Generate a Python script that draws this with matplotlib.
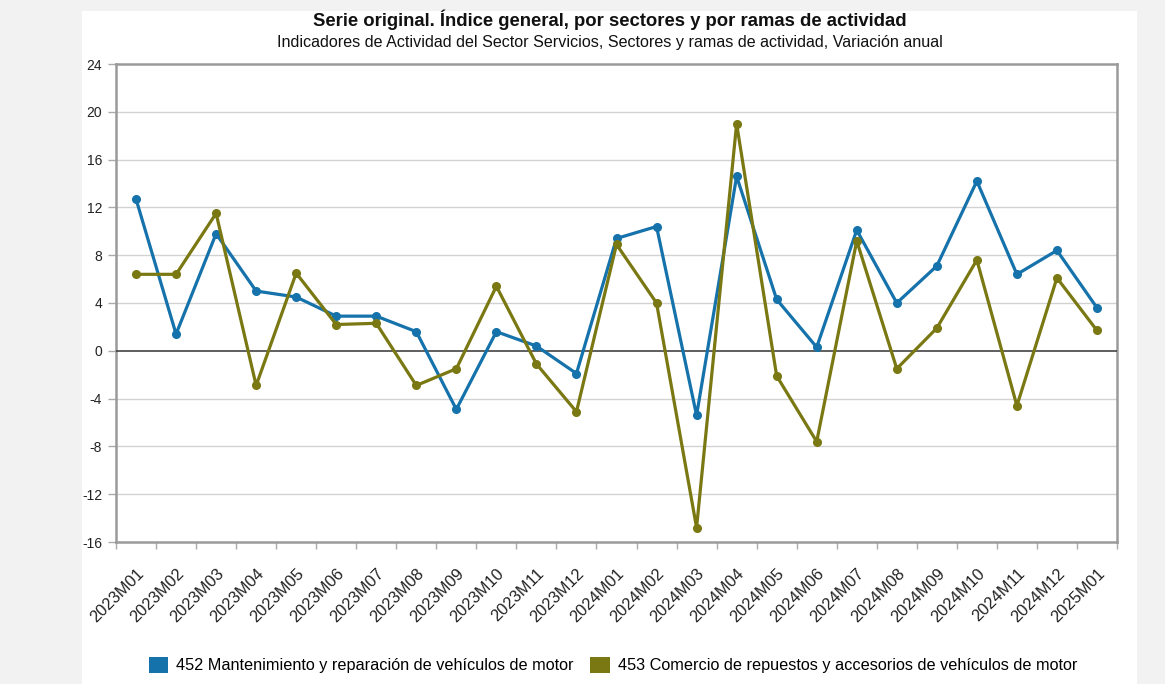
import matplotlib
matplotlib.use("Agg")
import matplotlib.pyplot as plt
from matplotlib.patches import Rectangle, Patch

plt.rcParams['font.family'] = ['Liberation Sans', 'DejaVu Sans']

categories = ["2023M01", "2023M02", "2023M03", "2023M04", "2023M05", "2023M06",
              "2023M07", "2023M08", "2023M09", "2023M10", "2023M11", "2023M12",
              "2024M01", "2024M02", "2024M03", "2024M04", "2024M05", "2024M06",
              "2024M07", "2024M08", "2024M09", "2024M10", "2024M11", "2024M12",
              "2025M01"]

serie_452 = [12.7, 1.4, 9.8, 5.0, 4.5, 2.9, 2.9, 1.6, -4.9, 1.6, 0.4, -1.9,
             9.4, 10.4, -5.4, 14.6, 4.3, 0.3, 10.1, 4.0, 7.1, 14.2, 6.4, 8.4, 3.6]
serie_453 = [6.4, 6.4, 11.5, -2.9, 6.5, 2.2, 2.3, -2.9, -1.5, 5.4, -1.1, -5.1,
             8.9, 4.0, -14.8, 19.0, -2.1, -7.6, 9.2, -1.5, 1.9, 7.6, -4.6, 6.1, 1.7]

name_452 = "452 Mantenimiento y reparación de vehículos de motor"
name_453 = "453 Comercio de repuestos y accesorios de vehículos de motor"
title = "Serie original. Índice general, por sectores y por ramas de actividad"
subtitle = "Indicadores de Actividad del Sector Servicios, Sectores y ramas de actividad, Variación anual"
yticks = [-16, -12, -8, -4, 0, 4, 8, 12, 16, 20, 24]

color_452 = "#1572ab"
color_453 = "#7a7812"

W, H = 1165, 684
fig = plt.figure(figsize=(W / 100, H / 100), dpi=100)
fig.patch.set_facecolor("#f2f2f2")
fig.patches.append(Rectangle((82 / W, 0), (1137 - 82) / W, (H - 11) / H,
                             transform=fig.transFigure, facecolor="white",
                             edgecolor="none", zorder=-10))

left, right, top, bottom = 116, 1117, 64, 542
ax = fig.add_axes([left / W, 1 - bottom / H, (right - left) / W, (bottom - top) / H])
ax.set_zorder(5)
ax.set_facecolor("white")

x = list(range(len(categories)))
ax.plot(x, serie_452, color=color_452, lw=2.3, marker="o", markersize=5.5, zorder=4)
ax.plot(x, serie_453, color=color_453, lw=2.3, marker="o", markersize=5.5, zorder=4)

ax.set_xlim(-0.5, len(categories) - 0.5)
ax.set_ylim(-16, 24)
ax.set_yticks(yticks)
ax.set_yticklabels([str(v) for v in yticks], fontsize=10, color="#222222")
for v in yticks:
    if v == 0:
        ax.axhline(v, color="#333333", lw=1.1, zorder=3)
    elif v not in (-16, 24):
        ax.axhline(v, color="#d2d2d2", lw=1.0, zorder=1)

ax.set_xticks([i - 0.5 for i in range(len(categories) + 1)], minor=False)
ax.set_xticklabels([""] * (len(categories) + 1))
ax.set_xticks(x, minor=True)
ax.set_xticklabels(categories, minor=True, rotation=45, ha="right", va="top",
                   rotation_mode="anchor", fontsize=11.8, color="#222222")
ax.tick_params(axis="x", which="minor", length=0, pad=17)
ax.tick_params(axis="x", which="major", length=5, color="#aaaaaa", width=1)
ax.tick_params(axis="y", length=6, color="#aaaaaa", width=1, pad=4)

for s in ax.spines.values():
    s.set_color("#9a9a9a")
    s.set_linewidth(1.8)

fig.text(609.5 / W, 1 - 20 / H, title, ha="center", va="center",
         fontsize=13.3, fontweight="bold", color="#111111")
fig.text(609.5 / W, 1 - 42 / H, subtitle, ha="center", va="center",
         fontsize=11.6, color="#111111")

handles = [Patch(facecolor=color_452, edgecolor="none"),
           Patch(facecolor=color_453, edgecolor="none")]
fig.legend(handles, [name_452, name_453], loc="center", ncol=2,
           bbox_to_anchor=(613 / W, 1 - 665 / H), frameon=False,
           fontsize=11.7, handlelength=1.2, handleheight=1.2,
           handletextpad=0.5, columnspacing=1.0)

fig.savefig("out.png", dpi=100, facecolor=fig.get_facecolor())
